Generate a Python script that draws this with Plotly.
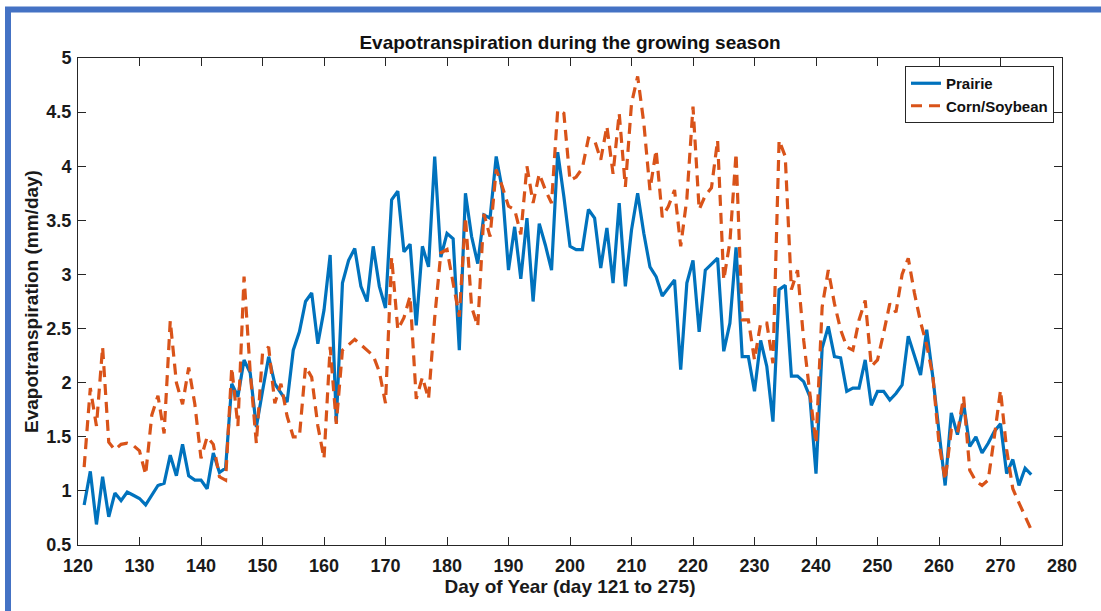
import plotly.graph_objects as go

days = list(range(121, 276))

prairie = [
    0.87, 1.18, 0.69, 1.13, 0.76, 0.98, 0.91, 0.99, 0.96, 0.93,   # 121-130
    0.87, 0.96, 1.05, 1.07, 1.33, 1.14, 1.43, 1.14, 1.10, 1.10,   # 131-140
    1.02, 1.35, 1.17, 1.21, 1.99, 1.87, 2.21, 2.09, 1.59, 1.92,   # 141-150
    2.24, 1.99, 1.90, 1.82, 2.30, 2.47, 2.75, 2.83, 2.36, 2.67,   # 151-160
    3.18, 1.64, 2.92, 3.13, 3.24, 2.89, 2.75, 3.26, 2.89, 2.69,   # 161-170
    3.69, 3.77, 3.21, 3.28, 2.53, 3.26, 3.07, 4.09, 3.16, 3.38,   # 171-180
    3.33, 2.30, 3.75, 3.35, 3.10, 3.55, 3.52, 4.09, 3.78, 3.04,   # 181-190
    3.44, 2.96, 3.52, 2.75, 3.47, 3.27, 3.04, 4.13, 3.72, 3.26,   # 191-200
    3.23, 3.23, 3.60, 3.52, 3.06, 3.43, 2.92, 3.66, 2.89, 3.41,   # 201-210
    3.75, 3.38, 3.07, 2.98, 2.80, 2.87, 2.95, 2.12, 2.92, 3.13,   # 211-220
    2.47, 3.04, 3.10, 3.15, 2.29, 2.55, 3.25, 2.24, 2.24, 1.92,   # 221-230
    2.39, 2.15, 1.64, 2.86, 2.90, 2.06, 2.06, 2.01, 1.87, 1.16,   # 231-240
    2.32, 2.52, 2.24, 2.23, 1.92, 1.95, 1.95, 2.21, 1.79, 1.92,   # 241-250
    1.92, 1.84, 1.90, 1.98, 2.43, 2.24, 2.07, 2.49, 2.05, 1.55,   # 251-260
    1.05, 1.72, 1.52, 1.81, 1.41, 1.50, 1.35, 1.44, 1.55, 1.62,   # 261-270
    1.16, 1.29, 1.05, 1.21, 1.15,                                 # 271-275
]

corn_soybean = [
    1.22, 1.95, 1.60, 2.33, 1.45, 1.38, 1.43, 1.44, 1.42, 1.37,   # 121-130
    1.15, 1.70, 1.88, 1.53, 2.57, 2.00, 1.80, 2.14, 1.80, 1.30,   # 131-140
    1.50, 1.43, 1.13, 1.10, 2.14, 1.60, 2.98, 2.10, 1.44, 2.27,   # 141-150
    2.33, 1.81, 1.99, 1.69, 1.50, 1.50, 2.15, 2.05, 1.60, 1.30,   # 151-160
    2.33, 1.62, 2.30, 2.35, 2.40, 2.35, 2.30, 2.25, 2.10, 1.81,   # 161-170
    3.16, 2.49, 2.60, 2.80, 1.85, 2.05, 1.85, 2.60, 3.20, 3.23,   # 171-180
    2.92, 2.61, 3.53, 2.70, 2.52, 3.56, 3.35, 3.97, 3.81, 3.63,   # 181-190
    3.60, 3.37, 4.00, 3.66, 3.93, 3.78, 3.66, 4.52, 4.49, 3.87,   # 191-200
    3.90, 3.98, 4.26, 4.24, 4.06, 4.37, 3.93, 4.49, 3.81, 4.58,   # 201-210
    4.83, 4.40, 3.78, 4.15, 3.53, 3.63, 3.78, 3.26, 3.70, 4.55,   # 211-220
    3.60, 3.73, 3.80, 4.24, 2.95, 3.30, 4.12, 2.58, 2.58, 2.21,   # 221-230
    2.55, 2.55, 2.18, 4.24, 4.09, 2.86, 3.04, 2.39, 1.90, 1.44,   # 231-240
    2.70, 3.04, 2.73, 2.49, 2.33, 2.30, 2.58, 2.76, 2.15, 2.21,   # 241-250
    2.46, 2.73, 2.65, 3.00, 3.15, 2.83, 2.56, 2.35, 2.06, 1.44,   # 251-260
    1.10, 1.56, 1.53, 1.87, 1.19, 1.09, 1.05, 1.10, 1.50, 1.93,   # 261-270
    1.38, 1.02, 0.89, 0.76, 0.64,                                 # 271-275
]

x_ticks = list(range(120, 281, 10))
y_ticks = [0.5, 1, 1.5, 2, 2.5, 3, 3.5, 4, 4.5, 5]
y_tick_text = ["0.5", "1", "1.5", "2", "2.5", "3", "3.5", "4", "4.5", "5"]

FONT = "Liberation Sans, Arial, Helvetica, sans-serif"
AX = "#262626"
TXT = "#1a1a1a"

fig = go.Figure()
fig.add_trace(go.Scatter(
    x=days, y=prairie, mode="lines", name="Prairie",
    line=dict(color="#0072BD", width=3.2),
))
fig.add_trace(go.Scatter(
    x=days, y=corn_soybean, mode="lines", name="Corn/Soybean",
    line=dict(color="#D95319", width=3.2, dash="11px,7px"),
))

# plot area in px: left 78, right 1062, top 58, bottom 545
W, H = 1101, 611
L, R, T, B = 78, 1062, 58, 545
def px(xp):
    return (xp - L) / (R - L)
def py(yp):
    return (B - yp) / (B - T)

frame_col = "#4472C4"
shapes = [
    dict(type="line", xref="paper", yref="paper",
         x0=px(8), x1=px(8), y0=py(7), y1=py(640),
         line=dict(color=frame_col, width=6)),
    dict(type="line", xref="paper", yref="paper",
         x0=px(5), x1=px(1130), y0=py(9.5), y1=py(9.5),
         line=dict(color=frame_col, width=6)),
]

fig.update_layout(
    width=W, height=H,
    margin=dict(l=L, r=W - R, t=T, b=H - B),
    paper_bgcolor="white", plot_bgcolor="white",
    font=dict(family=FONT, color=AX, size=15),
    title=dict(
        text="Evapotranspiration during the growing season",
        x=(L + R) / 2 / W, xanchor="center",
        y=1 - 42 / H, yanchor="middle",
        font=dict(family=FONT, size=19, color="#111111", weight="bold"),
    ),
    showlegend=True,
    legend=dict(
        x=px(1054), xanchor="right", y=py(66), yanchor="top",
        bgcolor="white", bordercolor=AX, borderwidth=1,
        font=dict(family=FONT, size=15, color="#111111", weight="bold"),
        tracegroupgap=0, itemwidth=30,
    ),
    shapes=shapes,
)

fig.update_xaxes(
    range=[120, 280], tickvals=x_ticks,
    showgrid=False, zeroline=False,
    showline=True, linecolor=AX, linewidth=1, mirror="allticks",
    ticks="inside", ticklen=8, tickcolor=AX, tickwidth=1,
    ticklabelstandoff=4,
    tickfont=dict(family=FONT, size=18, color=TXT, weight="bold"),
    title=dict(text="Day of Year (day 121 to 275)", standoff=4,
               font=dict(family=FONT, size=19, color=TXT, weight="bold")),
)
fig.update_yaxes(
    range=[0.5, 5], tickvals=y_ticks, ticktext=y_tick_text,
    showgrid=False, zeroline=False,
    showline=True, linecolor=AX, linewidth=1, mirror="allticks",
    ticks="inside", ticklen=8, tickcolor=AX, tickwidth=1,
    ticklabelstandoff=2,
    tickfont=dict(family=FONT, size=18, color=TXT, weight="bold"),
    title=dict(text="Evapotranspiration (mm/day)", standoff=2,
               font=dict(family=FONT, size=19, color=TXT, weight="bold")),
)

fig.write_html("out.html")
